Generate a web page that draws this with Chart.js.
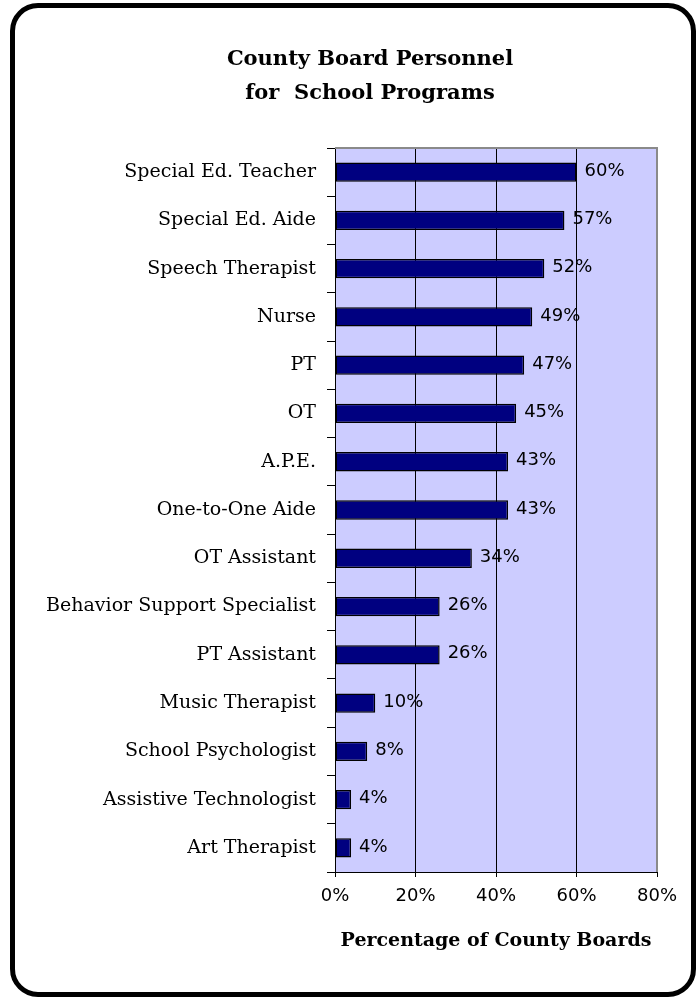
<!DOCTYPE html>
<html>
<head>
<meta charset="utf-8">
<title>County Board Personnel for School Programs</title>
<script src="https://cdn.jsdelivr.net/npm/chart.js@4.4.1/dist/chart.umd.min.js"></script>
<style>
  html, body { margin: 0; padding: 0; background: #fff; }
  #wrap { position: relative; width: 696px; height: 997px; overflow: hidden; }
  #frame { position: absolute; left: 10px; top: 3px; width: 686px; height: 994px; box-sizing: border-box;
           border: 5px solid #000; border-radius: 28px; }
  #chart { position: absolute; left: 0; top: 0; }
</style>
</head>
<body>
<div id="wrap">
  <div id="frame"></div>
  <canvas id="chart" width="696" height="997"></canvas>
</div>
<script>
// data
const titleLines = ['County Board Personnel', 'for  School Programs'];
const axisTitle = 'Percentage of County Boards';
const categories = [
  'Special Ed. Teacher', 'Special Ed. Aide', 'Speech Therapist', 'Nurse', 'PT', 'OT',
  'A.P.E.', 'One-to-One Aide', 'OT Assistant', 'Behavior Support Specialist', 'PT Assistant',
  'Music Therapist', 'School Psychologist', 'Assistive Technologist', 'Art Therapist'
];
const values = [60, 57, 52, 49, 47, 45, 43, 43, 34, 26, 26, 10, 8, 4, 4];
const tickValues = [0, 20, 40, 60, 80];

const SANS = '"DejaVu Sans", Arial, sans-serif';
const SERIF = '"DejaVu Serif", "Liberation Serif", serif';

// lavender plot background + grey frame on top and right
const plotArea = {
  id: 'plotArea',
  afterLayout(chart) {
    // the title in the original sits a bit right of the page centre
    const t = chart.titleBlock;
    if (t) { t.left = 83; t.right = 657; t.width = t.right - t.left; }
  },
  beforeDraw(chart) {
    const {ctx, chartArea: a} = chart;
    ctx.save();
    ctx.fillStyle = '#CCCCFF';
    ctx.fillRect(a.left, a.top, a.right - a.left, a.bottom - a.top);
    ctx.restore();
  },
  afterDraw(chart) {
    const {ctx, chartArea: a} = chart;
    ctx.save();
    ctx.strokeStyle = '#8a8a8a';
    ctx.lineWidth = 2;
    ctx.beginPath();
    ctx.moveTo(a.left, a.top);
    ctx.lineTo(a.right, a.top);
    ctx.lineTo(a.right, a.bottom);
    ctx.stroke();
    ctx.restore();
  }
};

// value labels to the right of each bar
const barLabels = {
  id: 'barLabels',
  afterDatasetsDraw(chart) {
    const {ctx} = chart;
    const meta = chart.getDatasetMeta(0);
    ctx.save();
    ctx.font = '18px ' + SANS;
    ctx.fillStyle = '#000';
    ctx.textAlign = 'left';
    ctx.textBaseline = 'middle';
    meta.data.forEach((bar, i) => {
      ctx.fillText(values[i] + '%', bar.x + 8, bar.y - 1);
    });
    ctx.restore();
  }
};

Chart.defaults.color = '#000';

new Chart(document.getElementById('chart'), {
  type: 'bar',
  data: {
    labels: categories,
    datasets: [{
      data: values,
      backgroundColor: '#000080',
      borderColor: '#000',
      borderWidth: 1.5,
      borderSkipped: false,
      barPercentage: 0.4,
      categoryPercentage: 1
    }]
  },
  options: {
    indexAxis: 'y',
    responsive: false,
    animation: false,
    layout: { padding: { left: 20, right: 39, top: 0, bottom: 0 } },
    plugins: {
      legend: { display: false },
      tooltip: { enabled: false },
      title: {
        display: true,
        text: titleLines,
        color: '#000',
        font: { family: SERIF, size: 21, weight: 'bold', lineHeight: '34px' },
        padding: { top: 43, bottom: 37 }
      }
    },
    scales: {
      x: {
        min: 0,
        max: 80,
        afterBuildTicks(scale) { scale.ticks = tickValues.map(v => ({ value: v })); },
        afterFit(scale) { scale.height = 125; },
        ticks: {
          callback: v => v + '%',
          font: { family: SANS, size: 18 },
          color: '#000',
          padding: 9,
          maxRotation: 0
        },
        grid: {
          color: c => (c.tick && c.tick.value === 80) ? '#8a8a8a' : '#000',
          tickColor: '#000',
          tickLength: 5,
          lineWidth: 1
        },
        border: { color: '#000', width: 1 },
        title: {
          display: true,
          text: axisTitle,
          color: '#000',
          font: { family: SERIF, size: 19, weight: 'bold', lineHeight: '22px' },
          padding: { top: 0, bottom: 45 }
        }
      },
      y: {
        afterFit(scale) { scale.width = 315; },
        ticks: {
          font: { family: SERIF, size: 19 },
          color: '#000',
          padding: 11,
          autoSkip: false
        },
        grid: {
          offset: true,
          drawOnChartArea: false,
          drawTicks: true,
          tickLength: 8,
          tickColor: '#000'
        },
        border: { color: '#000', width: 1 }
      }
    }
  },
  plugins: [plotArea, barLabels]
});
</script>
</body>
</html>
